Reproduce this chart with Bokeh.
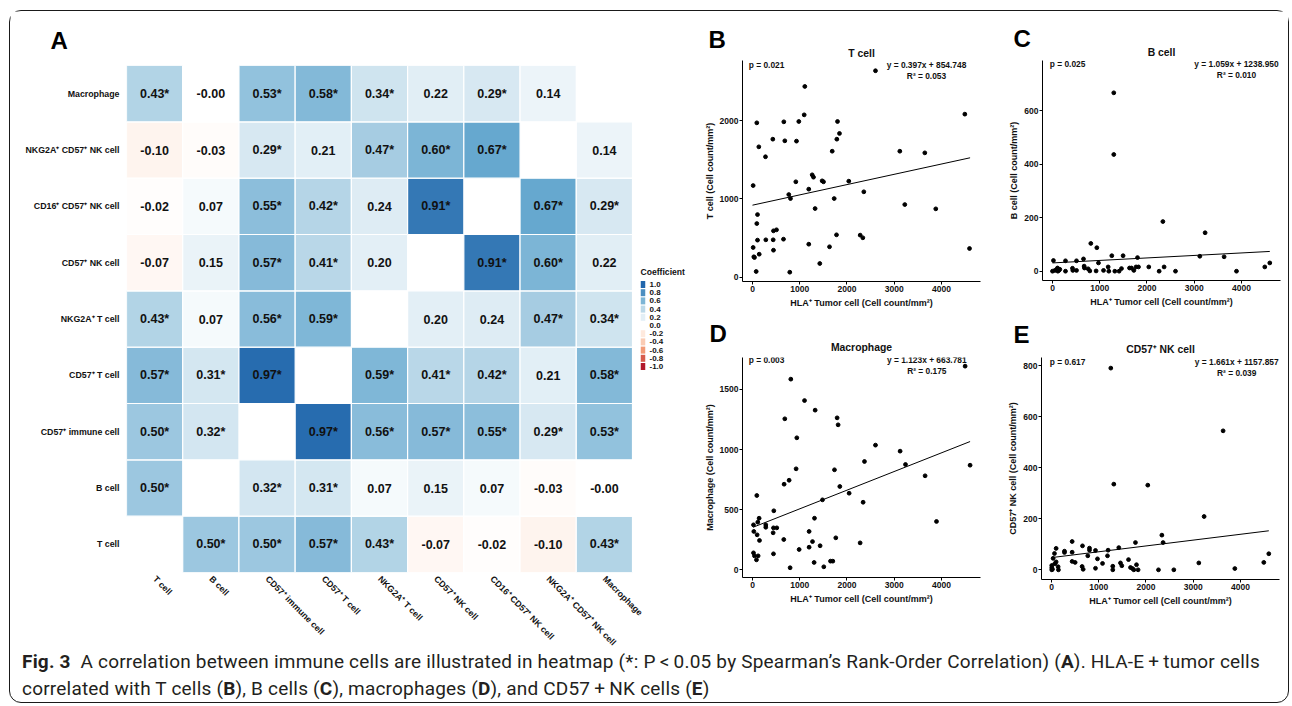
import math
from bokeh.plotting import figure
from bokeh.models import (ColumnDataSource, LinearColorMapper, Label, FixedTicker, Range1d, Div, Title)
from bokeh.layouts import row, column
from bokeh.transform import transform
from bokeh.core.properties import value
from bokeh.embed import file_html
from bokeh.resources import INLINE

FONT = "Liberation Sans"

# ---------------- data: heatmap (A) ----------------
cell_types = ["T cell", "B cell", "CD57⁺ immune cell", "CD57⁺ T cell", "NKG2A⁺ T cell",
              "CD57⁺ NK cell", "CD16⁺ CD57⁺ NK cell", "NKG2A⁺ CD57⁺ NK cell", "Macrophage"]
coef = [
    [None, 0.50, 0.50, 0.57, 0.43, -0.07, -0.02, -0.10, 0.43],
    [0.50, None, 0.32, 0.31, 0.07, 0.15, 0.07, -0.03, -0.001],
    [0.50, 0.32, None, 0.97, 0.56, 0.57, 0.55, 0.29, 0.53],
    [0.57, 0.31, 0.97, None, 0.59, 0.41, 0.42, 0.21, 0.58],
    [0.43, 0.07, 0.56, 0.59, None, 0.20, 0.24, 0.47, 0.34],
    [-0.07, 0.15, 0.57, 0.41, 0.20, None, 0.91, 0.60, 0.22],
    [-0.02, 0.07, 0.55, 0.42, 0.24, 0.91, None, 0.67, 0.29],
    [-0.10, -0.03, 0.29, 0.21, 0.47, 0.60, 0.67, None, 0.14],
    [0.43, -0.001, 0.53, 0.58, 0.34, 0.22, 0.29, 0.14, None],
]
sig = [
    [0, 1, 1, 1, 1, 0, 0, 0, 1],
    [1, 0, 1, 1, 0, 0, 0, 0, 0],
    [1, 1, 0, 1, 1, 1, 1, 1, 1],
    [1, 1, 1, 0, 1, 1, 1, 0, 1],
    [1, 0, 1, 1, 0, 0, 0, 1, 1],
    [0, 0, 1, 1, 0, 0, 1, 1, 0],
    [0, 0, 1, 1, 0, 1, 0, 1, 1],
    [0, 0, 1, 0, 1, 1, 1, 0, 0],
    [1, 0, 1, 1, 1, 0, 1, 0, 0],
]
legend_breaks = [1.0, 0.8, 0.6, 0.4, 0.2, 0.0, -0.2, -0.4, -0.6, -0.8, -1.0]

# ---------------- data: scatter panels (B-E) ----------------
x_ticks = [0, 1000, 2000, 3000, 4000]

tcell_x = [2603, 1107, 1094, 4494, 91, 663, 980, 1799, 1841, 1785, 430, 684, 931, 134, 275,
           1687, 3118, 3647, 1263, 1291, 917, 1474, 1503, 2038, 14, 1191, 2356, 768, 804, 1729,
           1325, 3223, 3879, 106, 91, 444, 508, 106, 282, 438, 656, 1778, 2279, 2335, 14,
           28, 42, 142, 444, 1191, 1630, 4593, 78, 789, 1424]
tcell_y = [2640, 2439, 2076, 2085, 1974, 1987, 1991, 1991, 1838, 1765, 1765, 1744, 1740, 1667, 1540,
           1611, 1611, 1590, 1309, 1279, 1220, 1232, 1220, 1228, 1172, 1126, 1092, 1057, 1006, 1006,
           878, 929, 874, 801, 686, 593, 606, 474, 478, 478, 486, 542, 538, 504, 380,
           261, 252, 294, 345, 422, 389, 367, 73, 64, 175]
tcell_fit_x = [0, 4605]
tcell_fit_y = [921, 1527]
tcell_yticks = [0, 1000, 2000]

bcell_x = [1297, 1297, 2336, 3230, 811, 938, 20, 275, 508, 656, 973, 1255, 1494, 1799, 3118,
           3632, 4599, 4493, 3894, 2603, 2362, 2038, 1820, 1769, 1672, 1630, 1721, 2257, 1460, 1410,
           1319, 1192, 1178, 1080, 923, 790, 755, 670, 676, 508, 430, 423, 275, 134, 106,
           92, 50, 0, 155, 113]
bcell_y = [668, 437, 186, 144, 104, 88, 40, 39, 39, 46, 31, 58, 58, 51, 56,
           54, 31, 16, 0, 0, 16, 16, 16, 16, 12, 12, 3, 0, 10, 0,
           0, 0, 16, 3, 1, 1, 9, 19, 12, 3, 3, 11, 0, 3, 12,
           7, 3, 0, 7, 0]
bcell_fit_x = [0, 4599]
bcell_fit_y = [31, 74]
bcell_yticks = [0, 200, 400, 600]

macro_x = [4500, 811, 1101, 1326, 684, 1791, 1812, 938, 2603, 3124, 2370, 3238, 4605, 923, 1735,
           3653, 775, 669, 1848, 2045, 91, 1481, 2341, 451, 140, 1312, 112, 21, 281, 281,
           444, 514, 28, 437, 1198, 98, 1763, 148, 662, 1270, 2278, 1198, 1431, 987, 21,
           444, 42, 119, 84, 1304, 1651, 1700, 796, 1509, 3894]
macro_y = [1694, 1586, 1408, 1328, 1256, 1264, 1206, 1098, 1037, 987, 901, 876, 870, 840, 832,
           782, 745, 712, 693, 637, 618, 582, 562, 491, 429, 429, 396, 374, 374, 354,
           349, 349, 319, 308, 319, 291, 266, 244, 252, 235, 224, 188, 200, 169, 141,
           133, 116, 116, 83, 61, 72, 72, 17, 25, 402]
macro_fit_x = [13, 4605]
macro_fit_y = [354, 1067]
macro_yticks = [0, 500, 1000, 1500]

nk_x = [1255, 3632, 1319, 2038, 3230, 2336, 437, 656, 1777, 2362, 1424, 98, 804, 804, 931,
        1198, 275, 275, 437, 63, 4599, 768, 1185, 34, 973, 1630, 437, 500, 1080, 1460,
        3118, 4493, 98, 1799, 70, 6, 140, 1297, 1488, 648, 6, 931, 1672, 1714, 3880,
        670, 1297, 6, 1742, 1833, 2264, 2589, 147, 20]
nk_y = [791, 545, 336, 332, 209, 136, 111, 94, 107, 107, 87, 84, 85, 77, 76,
        77, 73, 68, 69, 64, 63, 55, 55, 45, 43, 40, 33, 29, 25, 27,
        27, 29, 31, 20, 24, 17, 12, 14, 16, 13, 8, 6, 9, 5, 5,
        2, 0, 0, 0, 0, 0, 0, 0, 2]
nk_fit_x = [6, 4599]
nk_fit_y = [48, 153]
nk_yticks = [0, 200, 400, 600, 800]

p_values = ["0.021", "0.025", "0.003", "0.617"]
equations = ["y = 0.397x + 854.748", "y = 1.059x + 1238.950",
             "y = 1.123x + 663.781", "y = 1.661x + 1157.857"]
r_squared = ["0.053", "0.010", "0.175", "0.039"]

# ---------------- colour scale ----------------
STOPS = [(-1.0, "#B2182B"), (-2/3, "#EF8A62"), (-1/3, "#FDDBC7"), (0.0, "#FFFFFF"),
         (1/3, "#D1E5F0"), (2/3, "#67A9CF"), (1.0, "#2166AC")]


def _rgb(h):
    return tuple(int(h[i:i + 2], 16) for i in (1, 3, 5))


def color_at(v):
    v = max(-1.0, min(1.0, v))
    for (a, ca), (b, cb) in zip(STOPS[:-1], STOPS[1:]):
        if a <= v <= b:
            t = (v - a) / (b - a)
            r1, r2 = _rgb(ca), _rgb(cb)
            return "#%02x%02x%02x" % tuple(round(r1[k] + (r2[k] - r1[k]) * t) for k in range(3))
    return STOPS[-1][1]


palette = [color_at(-1 + 2 * i / 200) for i in range(201)]
mapper = LinearColorMapper(palette=palette, low=-1, high=1)

# ---------------- heatmap figure ----------------
# frame: page x 126..690 (9 cells of 56.22 px + legend strip), y 65..572
HM_LEFT, HM_TOP, CELL_W = 126, 65, 506 / 9
HM_FW = 564
n = len(cell_types)
heat = figure(x_range=Range1d(0, HM_FW / CELL_W), y_range=Range1d(0, n),
              frame_width=HM_FW, frame_height=507,
              min_border_left=116, min_border_right=0, min_border_top=54, min_border_bottom=80,
              output_backend="svg", toolbar_location=None, tools="")
heat.outline_line_color = None
heat.xgrid.visible = False
heat.ygrid.visible = False

xs, ys, vals, labels = [], [], [], []
for i in range(n):
    for j in range(n):
        if coef[i][j] is None:
            continue
        xs.append(j + 0.5)
        ys.append(i + 0.5)
        vals.append(coef[i][j])
        labels.append(f"{coef[i][j]:.2f}" + ("*" if sig[i][j] else ""))
hsrc = ColumnDataSource(dict(x=xs, y=ys, v=vals, label=labels))
heat.rect(x="x", y="y", width=1, height=1, source=hsrc,
          fill_color=transform("v", mapper), line_color="white", line_width=1.2)
heat.text(x="x", y="y", text="label", source=hsrc, text_align="center", text_baseline="middle",
          text_font=value(FONT), text_font_style="bold", text_font_size="12.5px", text_color="#111111")

centers = [k + 0.5 for k in range(n)]
heat.xaxis.ticker = FixedTicker(ticks=centers)
heat.yaxis.ticker = FixedTicker(ticks=centers)
heat.xaxis.major_label_overrides = {c: name for c, name in zip(centers, cell_types)}
heat.yaxis.major_label_overrides = {c: name for c, name in zip(centers, cell_types)}
for ax in (heat.xaxis[0], heat.yaxis[0]):
    ax.axis_line_color = None
    ax.major_tick_line_color = None
    ax.major_tick_out = 0
    ax.major_tick_in = 0
    ax.minor_tick_line_color = None
    ax.major_label_text_font = FONT
    ax.major_label_text_font_style = "bold"
    ax.major_label_text_font_size = "8.8px"
    ax.major_label_text_color = "#111111"
heat.yaxis.major_label_standoff = 7
heat.xaxis.major_label_standoff = 5
heat.xaxis.major_label_orientation = -math.pi / 4

# colour key: drawn in its own pixel-like ranges inside the frame strip right of the cells
# key value b sits at page y = 325 - 41*b ; strip x measured in px from the frame's left edge
heat.extra_x_ranges = {"leg": Range1d(0, HM_FW)}
heat.extra_y_ranges = {"leg": Range1d((325 - (HM_TOP + 507)) / 41, (325 - HM_TOP) / 41)}
lsrc = ColumnDataSource(dict(b=legend_breaks, lab=[f"{b:.1f}" for b in legend_breaks],
                             col=[color_at(b) for b in legend_breaks]))
heat.rect(x=516.5, y="b", width=4.5, height=7, width_units="screen", height_units="screen",
          source=lsrc, fill_color="col", line_color=None, x_range_name="leg", y_range_name="leg")
heat.text(x=523, y="b", text="lab", source=lsrc, text_align="left", text_baseline="middle",
          text_font=value(FONT), text_font_style="bold", text_font_size="8px", text_color="#111111",
          x_range_name="leg", y_range_name="leg")
heat.text(x=[514], y=[(325 - 271) / 41], text=["Coefficient"], text_align="left", text_baseline="middle",
          text_font=value(FONT), text_font_style="bold", text_font_size="8.6px", text_color="#111111",
          x_range_name="leg", y_range_name="leg")

heat.title.text = "A"
heat.title.align = "left"
heat.title.vertical_align = "middle"
heat.title.offset = 50 - HM_LEFT
heat.title.standoff = 21
heat.title.text_font = FONT
heat.title.text_font_style = "bold"
heat.title.text_font_size = "24px"
heat.title.text_color = "#000000"

# ---------------- scatter panels ----------------
X_RANGE = (-211.6, 4825.4)
X_LABEL = "HLA⁺ Tumor cell (Cell count/mm²)"

panels = [
    dict(letter="B", title="T cell", ylab="T cell (Cell count/mm²)",
         x=tcell_x, y=tcell_y, fx=tcell_fit_x, fy=tcell_fit_y, yt=tcell_yticks, yr=(-55, 2771),
         ox=690, oy=11, w=300, bl=52, br=10, bt=48, fh=221, bb=31, letter_x=708, s1=3, s2=-16,
         pos=dict(p=(748.3, 63.3), eq=(926, 63.3), r2=(926, 74.4))),
    dict(letter="C", title="B cell", ylab="B cell (Cell count/mm²)",
         x=bcell_x, y=bcell_y, fx=bcell_fit_x, fy=bcell_fit_y, yt=bcell_yticks, yr=(-34.8, 789),
         ox=990, oy=11, w=298, bl=52, br=8, bt=49, fh=220, bb=31, letter_x=1012.7, s1=5, s2=-18,
         pos=dict(p=(1049.3, 63.3), eq=(1236, 63.3), r2=(1236, 74.4))),
    dict(letter="D", title="Macrophage", ylab="Macrophage (Cell count/mm²)",
         x=macro_x, y=macro_y, fx=macro_fit_x, fy=macro_fit_y, yt=macro_yticks, yr=(-64, 1766),
         ox=690, oy=311, w=300, bl=52, br=10, bt=46, fh=220, bb=34, letter_x=709.3, s1=9, s2=-23,
         pos=dict(p=(748.3, 359.3), eq=(926.3, 359.3), r2=(926.3, 370.7))),
    dict(letter="E", title="CD57⁺ NK cell", ylab="CD57⁺ NK cell (Cell count/mm²)",
         x=nk_x, y=nk_y, fx=nk_fit_x, fy=nk_fit_y, yt=nk_yticks, yr=(-38, 832.6),
         ox=990, oy=311, w=298, bl=51, br=9, bt=44, fh=222, bb=34, letter_x=1013.3, s1=6, s2=-18,
         pos=dict(p=(1049.3, 359.3), eq=(1236.2, 359.3), r2=(1236.2, 370.7))),
]

figs = []
for k, P in enumerate(panels):
    fw = P["w"] - P["bl"] - P["br"]
    p = figure(x_range=Range1d(*X_RANGE), y_range=Range1d(*P["yr"]),
               frame_width=fw, frame_height=P["fh"],
               min_border_left=P["bl"], min_border_right=P["br"],
               min_border_top=P["bt"], min_border_bottom=P["bb"],
               output_backend="svg", toolbar_location=None, tools="")
    p.outline_line_color = None
    p.xgrid.visible = False
    p.ygrid.visible = False
    p.xaxis.ticker = FixedTicker(ticks=x_ticks)
    p.yaxis.ticker = FixedTicker(ticks=P["yt"])
    p.xaxis.axis_label = X_LABEL
    p.yaxis.axis_label = P["ylab"]
    for ax in (p.xaxis[0], p.yaxis[0]):
        ax.axis_line_color = "#000000"
        ax.axis_line_width = 1
        ax.major_tick_line_color = "#000000"
        ax.major_tick_out = 3
        ax.major_tick_in = 0
        ax.minor_tick_line_color = None
        ax.major_label_standoff = 1
        ax.major_label_text_font = FONT
        ax.major_label_text_font_style = "bold"
        ax.major_label_text_font_size = "8.5px"
        ax.major_label_text_color = "#111111"
        ax.axis_label_text_font = FONT
        ax.axis_label_text_font_style = "bold"
        ax.axis_label_text_font_size = "9px"
        ax.axis_label_text_color = "#111111"
    p.xaxis.axis_label_standoff = 3
    p.yaxis.axis_label_standoff = 2

    fl = P["ox"] + P["bl"]
    # outer band: panel letter ; inner band (next to the frame): panel title
    p.title.text = P["letter"]
    p.title.align = "left"
    p.title.offset = round(P["letter_x"] - fl)
    p.title.standoff = P["s2"]
    p.title.text_font = FONT
    p.title.text_font_style = "bold"
    p.title.text_font_size = "24px"
    p.title.text_color = "#000000"
    p.add_layout(Title(text=P["title"], align="center", standoff=P["s1"], text_font=FONT,
                       text_font_style="bold", text_font_size="10.4px", text_color="#111111"),
                 "above")

    p.line(P["fx"], P["fy"], line_color="#000000", line_width=1)
    p.scatter(P["x"], P["y"], size=3.8, color="#000000")

    fb = P["oy"] + P["bt"] + P["fh"]
    x0, x1 = X_RANGE
    y0, y1 = P["yr"]

    def to_data(px, py, fl=fl, fb=fb, fw=fw, fh=P["fh"], x0=x0, x1=x1, y0=y0, y1=y1):
        return (x0 + (px - fl) / fw * (x1 - x0), y0 + (fb - py) / fh * (y1 - y0))

    pos = P["pos"]
    texts = [
        ("p", f"p = {p_values[k]}", "left"),
        ("eq", equations[k], "center"),
        ("r2", f"R² = {r_squared[k]}", "center"),
    ]
    for key, txt, align in texts:
        dx, dy = to_data(*pos[key])
        p.add_layout(Label(x=dx, y=dy, text=txt, text_align=align, text_baseline="middle",
                           text_font=FONT, text_font_style="bold", text_font_size="8.4px",
                           text_color="#111111"))
    figs.append(p)

grid = column(row(figs[0], figs[1]), row(figs[2], figs[3]))

caption = Div(
    text=("<b>Fig. 3</b>&nbsp; A correlation between immune cells are illustrated in heatmap "
          "(*: P&thinsp;&lt;&thinsp;0.05 by Spearman’s Rank-Order Correlation) (<b>A</b>). "
          "HLA-E&thinsp;+&thinsp;tumor cells<br>correlated with T cells (<b>B</b>), B cells (<b>C</b>), "
          "macrophages (<b>D</b>), and CD57&thinsp;+&thinsp;NK cells (<b>E</b>)"),
    width=1266, height=54, margin=(-6, 0, 0, 12),
    styles={"font-family": "Roboto", "font-size": "19px", "line-height": "27px",
            "letter-spacing": "0.2px", "color": "#231f20", "white-space": "nowrap"})

root = column(row(heat, grid), caption, margin=(10, 0, 0, 9),
              styles={"border": "1px solid #1a1a1a", "border-radius": "12px"})

open("out.html", "w").write(file_html(root, INLINE))
